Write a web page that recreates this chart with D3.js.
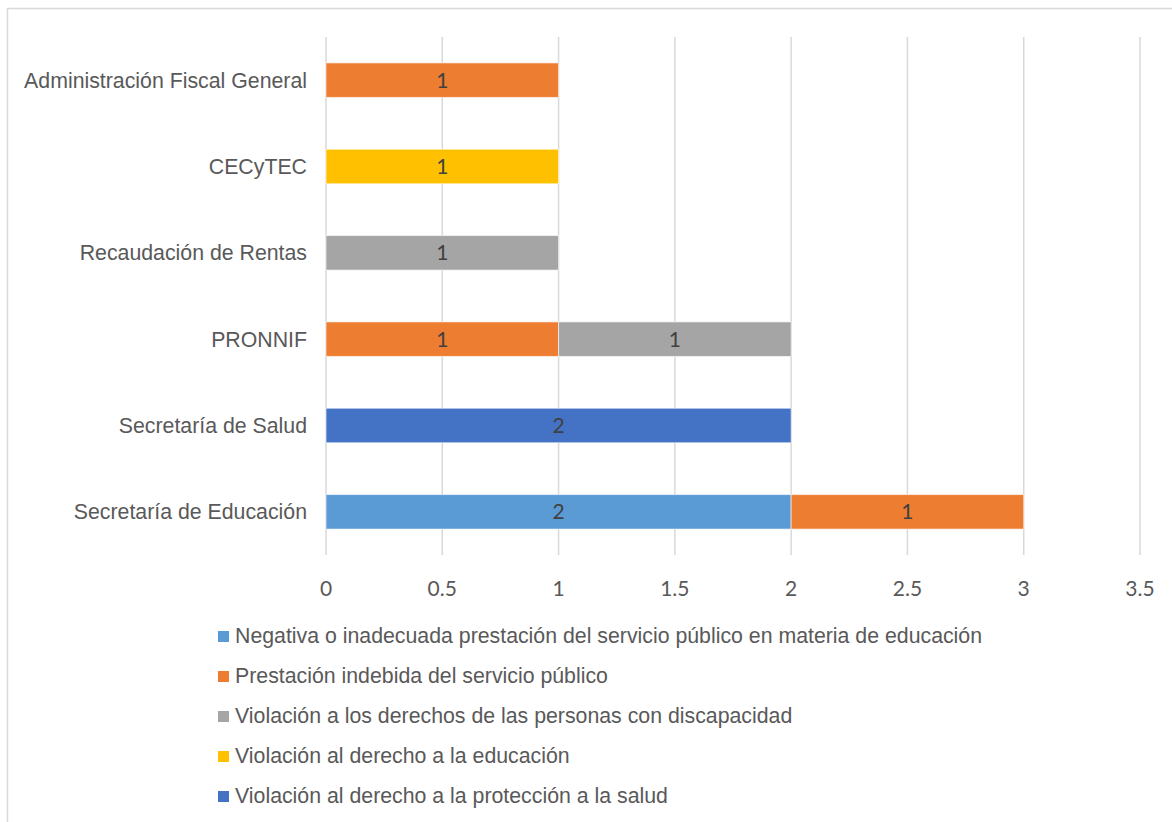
<!DOCTYPE html>
<html>
<head>
<meta charset="utf-8">
<script src="https://cdn.jsdelivr.net/npm/d3@7"></script>
<style>
  body { margin: 0; background: #fff; }
  svg { display: block; }
</style>
</head>
<body>
<svg id="chart" width="1172" height="822"></svg>
<script>
// ==== data ====
var categories = ["Administración Fiscal General", "CECyTEC", "Recaudación de Rentas",
  "PRONNIF", "Secretaría de Salud", "Secretaría de Educación"];
var seriesNames = [
  "Negativa o inadecuada prestación del servicio público en materia de educación",
  "Prestación indebida del servicio público",
  "Violación a los derechos de las personas con discapacidad",
  "Violación al derecho a la educación",
  "Violación al derecho a la protección a la salud"
];
var negativaVals     = [0, 0, 0, 0, 0, 2];
var prestacionVals   = [1, 0, 0, 1, 0, 1];
var discapacidadVals = [0, 0, 1, 1, 0, 0];
var educacionVals    = [0, 1, 0, 0, 0, 0];
var saludVals        = [0, 0, 0, 0, 2, 0];
var seriesColors = ["#5B9BD5", "#ED7D31", "#A5A5A5", "#FFC000", "#4472C4"];
var xTicks = [0, 0.5, 1, 1.5, 2, 2.5, 3, 3.5];

var allVals = [negativaVals, prestacionVals, discapacidadVals, educacionVals, saludVals];

// rows for d3.stack
var rows = categories.map(function (c, i) {
  var r = { cat: c };
  seriesNames.forEach(function (s, j) { r[s] = allVals[j][i]; });
  return r;
});

var svg = d3.select("#chart");

// outer chart border (only left and top visible)
svg.append("path")
  .attr("d", "M7.5,822 V8.5 H1172")
  .attr("fill", "none")
  .attr("stroke", "#d9d9d9")
  .attr("stroke-width", 1.5);

var plotTop = 37, plotBottom = 555;
var x = d3.scaleLinear().domain([0, 3.5]).range([326, 1140]);
var y = d3.scaleBand().domain(categories).range([plotTop, plotBottom]).paddingInner(0.6).paddingOuter(0.3);

// gridlines
svg.append("g").selectAll("line")
  .data(xTicks)
  .enter().append("line")
  .attr("x1", function (d) { return x(d); })
  .attr("x2", function (d) { return x(d); })
  .attr("y1", plotTop)
  .attr("y2", plotBottom)
  .attr("stroke", "#d9d9d9")
  .attr("stroke-width", 1.5);

// x tick labels
svg.append("g").selectAll("text")
  .data(xTicks)
  .enter().append("text")
  .attr("x", function (d) { return x(d); })
  .attr("y", 589)
  .attr("dy", "0.35em")
  .attr("text-anchor", "middle")
  .attr("font-family", "Lato, 'Open Sans', sans-serif")
  .attr("font-size", "21px")
  .attr("fill", "#595959")
  .text(function (d) { return d; });

// category labels
svg.append("g").selectAll("text")
  .data(categories)
  .enter().append("text")
  .attr("x", 307)
  .attr("y", function (d) { return y(d) + y.bandwidth() / 2; })
  .attr("dy", "0.35em")
  .attr("text-anchor", "end")
  .attr("font-family", "'Liberation Sans', Arial, sans-serif")
  .attr("font-size", "21.3px")
  .attr("fill", "#595959")
  .text(function (d) { return d; });

// stacked bars
var stacked = d3.stack().keys(seriesNames)(rows);

var layer = svg.append("g").selectAll("g")
  .data(stacked)
  .enter().append("g")
  .attr("fill", function (d, i) { return seriesColors[i]; });

layer.selectAll("rect")
  .data(function (d) { return d.filter(function (p) { return p[1] - p[0] > 0; }); })
  .enter().append("rect")
  .attr("x", function (d) { return x(d[0]); })
  .attr("width", function (d) { return x(d[1]) - x(d[0]); })
  .attr("y", function (d) { return y(d.data.cat); })
  .attr("height", y.bandwidth())
  .attr("stroke", "#ffffff")
  .attr("stroke-opacity", 0.6)
  .attr("stroke-width", 1);

layer.selectAll("text")
  .data(function (d) { return d.filter(function (p) { return p[1] - p[0] > 0; }); })
  .enter().append("text")
  .attr("x", function (d) { return (x(d[0]) + x(d[1])) / 2; })
  .attr("y", function (d) { return y(d.data.cat) + y.bandwidth() / 2; })
  .attr("dy", "0.35em")
  .attr("text-anchor", "middle")
  .attr("font-family", "Lato, 'Open Sans', sans-serif")
  .attr("font-size", "21px")
  .attr("fill", "#404040")
  .text(function (d) { return d[1] - d[0]; });

// legend
var legend = svg.append("g").selectAll("g")
  .data(seriesNames)
  .enter().append("g")
  .attr("transform", function (d, i) { return "translate(218," + (636 + i * 40) + ")"; });

legend.append("rect")
  .attr("x", 0)
  .attr("y", -5)
  .attr("width", 11)
  .attr("height", 11)
  .attr("fill", function (d, i) { return seriesColors[i]; });

legend.append("text")
  .attr("x", 17)
  .attr("y", 0)
  .attr("dy", "0.35em")
  .attr("font-family", "'Liberation Sans', Arial, sans-serif")
  .attr("font-size", "21.3px")
  .attr("fill", "#595959")
  .text(function (d) { return d; });
</script>
</body>
</html>
